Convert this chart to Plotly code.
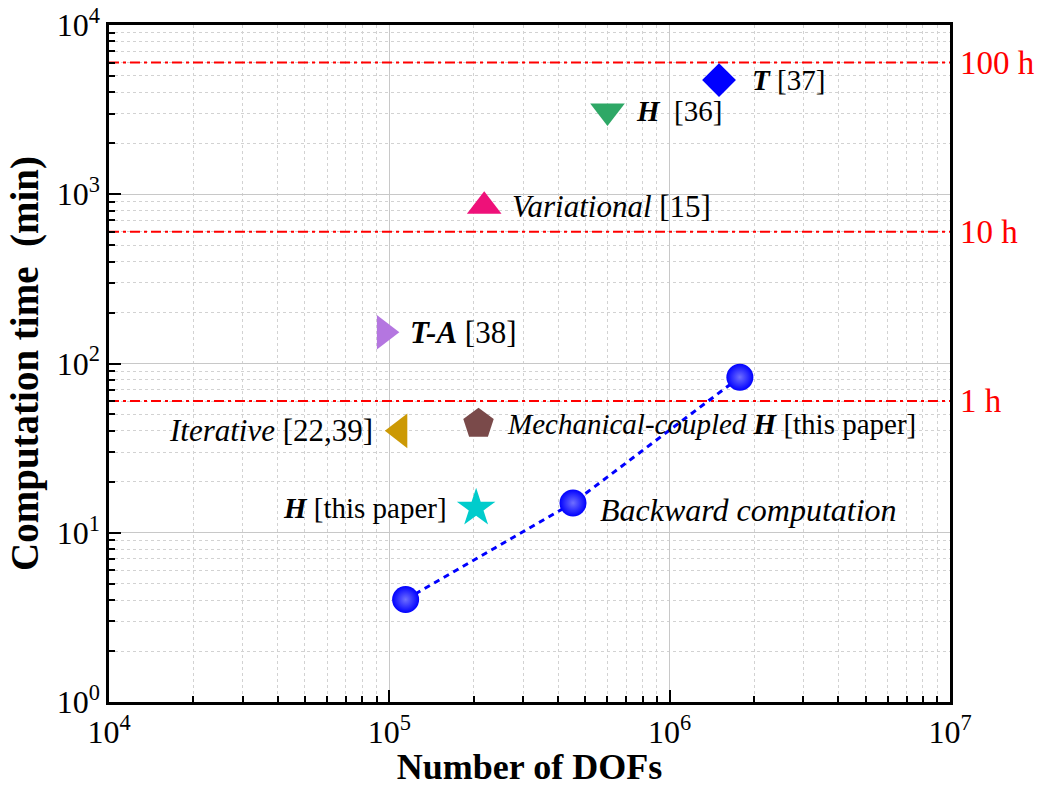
import math
import plotly.graph_objects as go

# ---------------- data ----------------
method_labels = [
    "<b><i>T</i></b> [37]",
    "<b><i>H</i></b>  [36]",
    "<i>Variational</i> [15]",
    "<b><i>T-A</i></b> [38]",
    "<i>Iterative</i> [22,39]",
    "<i>Mechanical-coupled</i> <b><i>H</i></b> [this paper]",
    "<b><i>H</i></b> [this paper]",
]
method_dofs = [1.50e6, 6.0e5, 2.18e5, 9.6e4, 1.09e5, 2.08e5, 2.04e5]
method_time = [4730, 3100, 850, 153, 40, 44, 14.0]

backward_label = "<i>Backward computation</i>"
backward_dofs = [1.143e5, 4.52e5, 1.78e6]
backward_time = [4.03, 15.0, 83]

hour_minutes = [60, 600, 6000]
hour_labels = ["1 h", "10 h", "100 h"]

x_tickvals = [1e4, 1e5, 1e6, 1e7]
x_ticktext = ["10<sup>4</sup>", "10<sup>5</sup>", "10<sup>6</sup>", "10<sup>7</sup>"]
y_tickvals = [1, 10, 100, 1000, 10000]
y_ticktext = ["10<sup>0</sup>", "10<sup>1</sup>", "10<sup>2</sup>", "10<sup>3</sup>", "10<sup>4</sup>"]

x_range = [1e4, 1e7]
y_range = [1, 1e4]

# ---------------- styles ----------------
symbols = ["diamond", "triangle-down", "triangle-up", "triangle-right",
           "triangle-left", "pentagon", "star"]
colors = ["#0000FF", "#2EA866", "#EE1179", "#B476E0", "#CC9904", "#7A4A4A", "#00CCCC"]
sizes = [26, 30, 30, 30, 30, 32, 29]
label_side = ["right", "right", "right", "right", "left", "right", "left"]
label_gap = [14, 10, 10, 10, 9, 10, 8]
label_font = [29, 29, 31, 31, 31, 29, 29]

FONT = "Liberation Serif"

fig = go.Figure()

# hour reference lines
for m in hour_minutes:
    fig.add_trace(go.Scatter(
        x=x_range, y=[m, m], mode="lines",
        line=dict(color="#FF0000", width=2, dash="10px,4px,3px,4px"),
        hoverinfo="skip", showlegend=False))

# backward computation line + balls
fig.add_trace(go.Scatter(
    x=backward_dofs, y=backward_time, mode="lines",
    line=dict(color="#0000FF", width=3, dash="6px,5px"),
    showlegend=False))
fig.add_trace(go.Scatter(
    x=backward_dofs, y=backward_time, mode="markers",
    marker=dict(symbol="circle", size=27, color="#0000FF",
                gradient=dict(type="radial", color="#6F6FFF"),
                line=dict(width=0)),
    showlegend=False))

# methods
for i in range(len(method_labels)):
    fig.add_trace(go.Scatter(
        x=[method_dofs[i]], y=[method_time[i]], mode="markers",
        marker=dict(symbol=symbols[i], size=sizes[i], color=colors[i],
                    line=dict(width=0)),
        showlegend=False))

annotations = []
half_w = [17, 17, 16, 14, 16, 16, 19]
for i, lab in enumerate(method_labels):
    right = label_side[i] == "right"
    annotations.append(dict(
        x=math.log10(method_dofs[i]), y=math.log10(method_time[i]),
        xref="x", yref="y", text=lab, showarrow=False,
        xanchor="left" if right else "right", yanchor="middle",
        xshift=(half_w[i] + label_gap[i]) * (1 if right else -1),
        font=dict(family=FONT, size=label_font[i], color="black")))

annotations.append(dict(
    x=math.log10(backward_dofs[1]), y=math.log10(backward_time[1]),
    xref="x", yref="y", text=backward_label, showarrow=False,
    xanchor="left", yanchor="middle", xshift=25, yshift=-7,
    font=dict(family=FONT, size=32, color="black")))

for m, lab in zip(hour_minutes, hour_labels):
    annotations.append(dict(
        x=1, y=math.log10(m), xref="paper", yref="y", text=lab,
        showarrow=False, xanchor="left", yanchor="middle", xshift=8,
        font=dict(family=FONT, size=33, color="#FF0000")))

minor_x = [k * 10 ** e for e in range(4, 7) for k in range(2, 10)]
minor_y = [k * 10 ** e for e in range(0, 4) for k in range(2, 10)]

axis_common = dict(
    type="log", showline=True, linecolor="black", linewidth=2.5, mirror=True,
    ticks="inside", ticklen=12, tickwidth=2, tickcolor="black",
    showgrid=True, gridcolor="#C8C8C8", gridwidth=1, zeroline=False,
    tickfont=dict(family=FONT, size=32, color="black"),
    tickmode="array", automargin=False, layer="above traces",
)

minor_common = dict(tickmode="array", ticks="inside", ticklen=6, tickwidth=2,
                    tickcolor="black", showgrid=True, gridcolor="#D2D2D2",
                    griddash="3px,3px", gridwidth=1)

fig.update_layout(
    template="none",
    width=1038, height=787,
    margin=dict(l=109, r=88, t=25, b=85, pad=0),
    paper_bgcolor="white", plot_bgcolor="white",
    font=dict(family=FONT, color="black"),
    showlegend=False,
    annotations=annotations,
    xaxis=dict(
        **axis_common,
        range=[math.log10(x_range[0]), math.log10(x_range[1])],
        tickvals=x_tickvals, ticktext=x_ticktext,
        minor=dict(**minor_common, tickvals=minor_x),
        title=dict(text="<b>Number of DOFs</b>", standoff=2,
                   font=dict(family=FONT, size=36, color="black")),
    ),
    yaxis=dict(
        **axis_common,
        range=[math.log10(y_range[0]), math.log10(y_range[1])],
        tickvals=y_tickvals, ticktext=y_ticktext,
        minor=dict(**minor_common, tickvals=minor_y),
        title=dict(text="<b>Computation time  (min)</b>", standoff=6,
                   font=dict(family=FONT, size=39, color="black")),
    ),
)

fig.write_html("out.html",
               config={"displayModeBar": False},
               post_script="document.body.style.margin='0px';document.body.style.overflow='hidden';")
